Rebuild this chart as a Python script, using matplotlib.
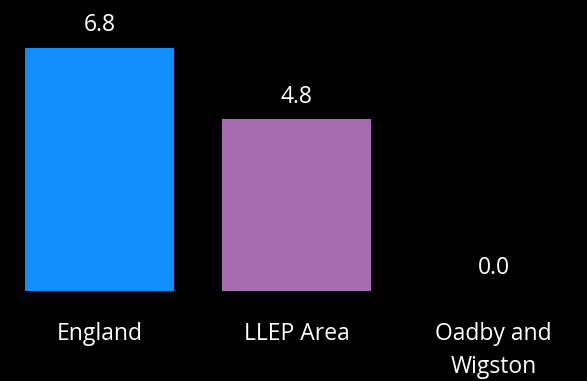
import matplotlib.pyplot as plt

categories = ["England", "LLEP Area", "Oadby and\nWigston"]
values = [6.8, 4.8, 0.0]
colors = ["#118DFF", "#A66BB0", "#118DFF"]

plt.rcParams['font.family'] = ['Open Sans', 'DejaVu Sans']

fig = plt.figure(figsize=(5.87, 3.81), dpi=100, facecolor='black')
# axes spans the full width; bottom edge at the bar baseline
ax = fig.add_axes([0, 90 / 381, 1, 291 / 381])
ax.set_facecolor('black')

x = range(len(categories))
ax.bar(x, values, width=149 / 197, color=colors)

# px per unit: 243 / 6.8
ax.set_xlim(-99.5 / 197, (587 - 99.5) / 197)
ax.set_ylim(0, 291 / (243 / 6.8))

for xi, v in zip(x, values):
    ax.annotate(f"{v:.1f}", (xi, v), xytext=(0, 16.5), textcoords='offset points',
                ha='center', va='center', color='white', fontsize=16.5)

ax.set_xticks(list(x))
ax.set_xticklabels(categories, color='white', fontsize=16.5, linespacing=1.55)
ax.tick_params(axis='x', length=0, pad=22)
ax.set_yticks([])
for s in ax.spines.values():
    s.set_visible(False)

plt.savefig('out.png', dpi=100, facecolor='black')
